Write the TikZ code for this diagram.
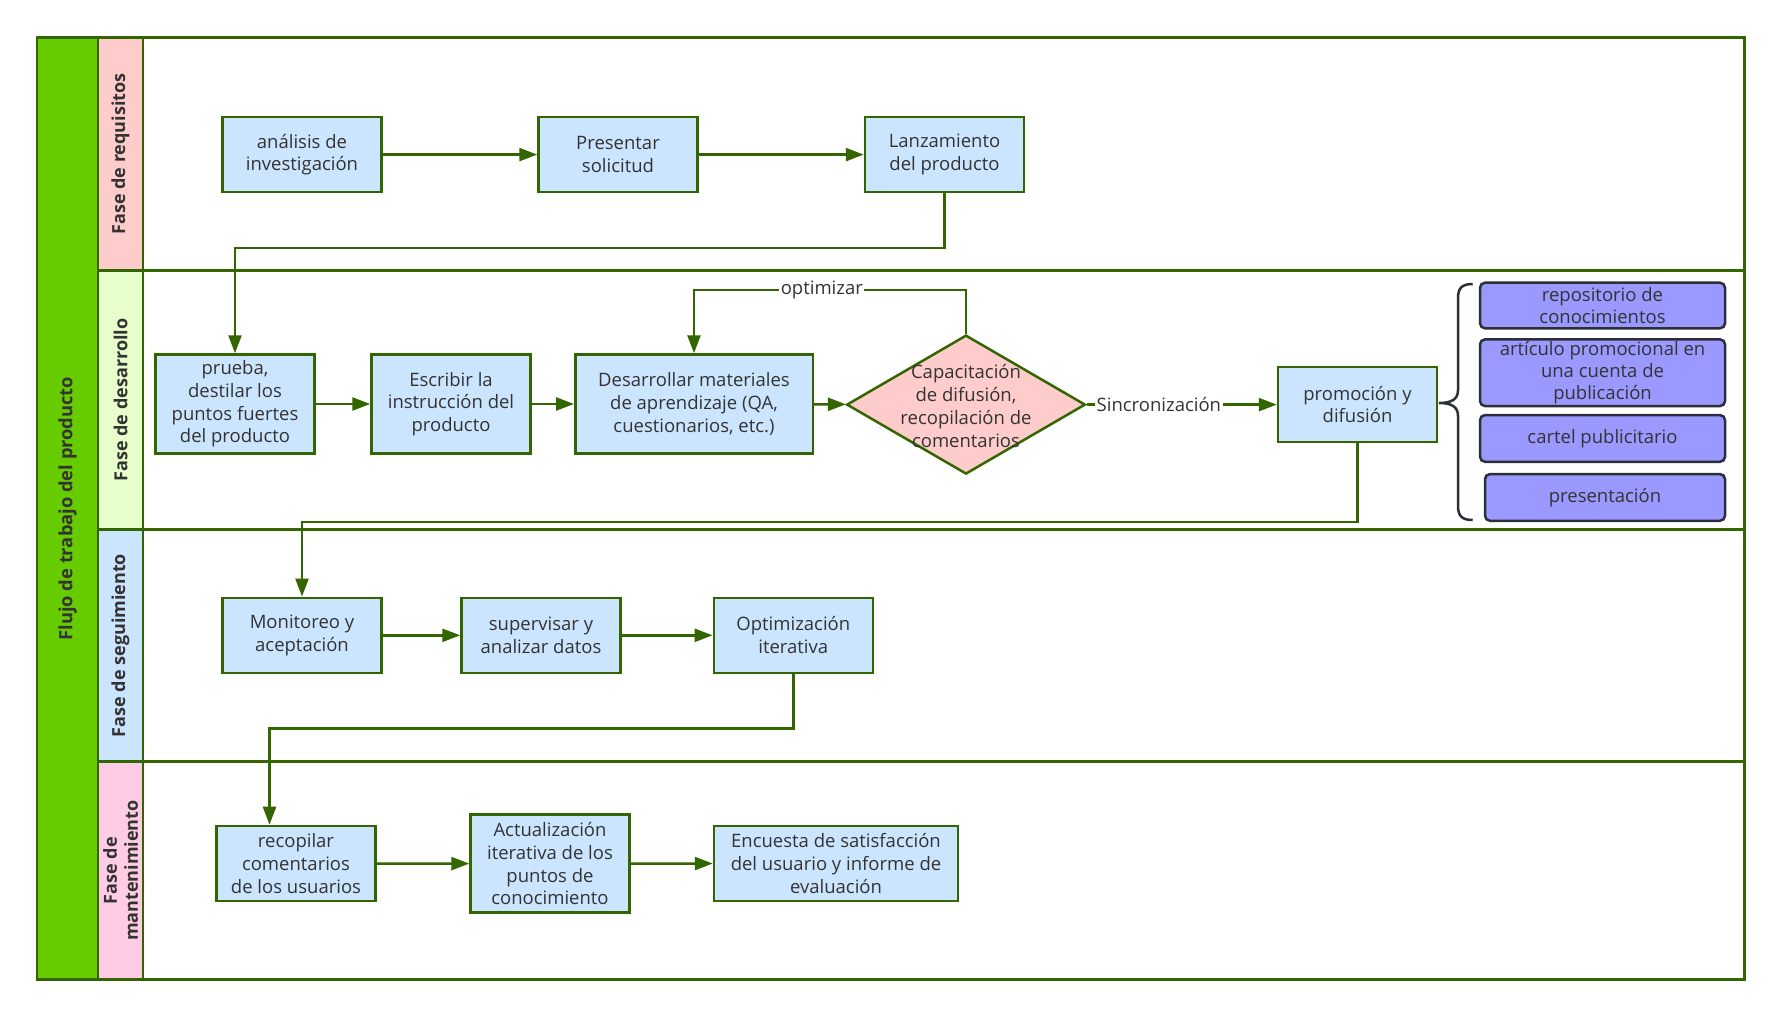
\documentclass[tikz,border=0pt]{standalone}
\usepackage{fontspec}
\setmainfont{Open Sans}
\usetikzlibrary{shapes.geometric,arrows.meta}
\definecolor{lg}{HTML}{336600}
\definecolor{grcol}{HTML}{66CC00}
\definecolor{boxfill}{HTML}{CCE5FF}
\definecolor{reqfill}{HTML}{FFCCCC}
\definecolor{desfill}{HTML}{E6FFCC}
\definecolor{segfill}{HTML}{CCE5FF}
\definecolor{manfill}{HTML}{FFCCE6}
\definecolor{purp}{HTML}{9999FF}
\definecolor{dk}{HTML}{2B2F38}
\definecolor{txt}{HTML}{333333}
\tikzset{
  box/.style={draw=lg, fill=boxfill, line width=2.5pt, text=txt, inner sep=0pt, align=center,
    font=\fontsize{18.5}{22.7}\selectfont, minimum width=159pt, minimum height=75pt},
  pbox/.style={draw=dk, fill=purp, line width=2.5pt, rounded corners=5pt, text=txt, inner sep=0pt,
    align=center, font=\fontsize{18.5}{21.7}\selectfont, minimum width=245pt},
  lanelbl/.style={draw=lg, line width=2.5pt, rotate=90, text=txt, inner sep=0pt, align=center,
    font=\bfseries\fontsize{18}{21}\selectfont, minimum height=45pt},
  lanebox/.style={draw=lg, line width=2.5pt},
  arr/.style={draw=lg, line width=2.5pt, -{Triangle[length=18pt,width=13pt]}},
  lbl/.style={fill=white, text=txt, inner sep=1.5pt, font=\fontsize{18.5}{22}\selectfont}
}
\begin{document}
\begin{tikzpicture}[x=1pt,y=-1pt]
\useasboundingbox[fill=white] (0,0) rectangle (1782,1018);
% lanes
\draw[lanebox] (143,37.5) rectangle (1744.5,270.5);
\draw[lanebox] (143,270.5) rectangle (1744.5,529.6);
\draw[lanebox] (143,529.6) rectangle (1744.5,761.5);
\draw[lanebox] (143,761.5) rectangle (1744.5,979.7);
% title column
\node[lanelbl, fill=grcol, minimum width=942.2pt, minimum height=61pt, font=\bfseries\fontsize{18.3}{21}\selectfont]
  (title) at (67.5,508.6) {Flujo de trabajo del producto};
\node[lanelbl, fill=reqfill, minimum width=233pt] (l1) at (120.5,154) {Fase de requisitos};
\node[lanelbl, fill=desfill, minimum width=259.1pt] (l2) at (120.5,400.05) {Fase de desarrollo};
\node[lanelbl, fill=segfill, minimum width=231.9pt] (l3) at (120.5,645.55) {Fase de seguimiento};
\node[lanelbl, fill=manfill, minimum width=218.2pt] (l4) at (120.5,870.6) {Fase de\\mantenimiento};
% lane 1
\node[box] (ana) at (302,154.6) {análisis de\\investigación};
\node[box] (pre) at (618,154.6) {Presentar\\solicitud};
\node[box] (lan) at (944.5,154.6) {Lanzamiento\\del producto};
% lane 2
\node[box, minimum height=99pt] (pru) at (235,404) {prueba,\\destilar los\\puntos fuertes\\del producto};
\node[box, minimum height=99pt] (esc) at (451,404) {Escribir la\\instrucción del\\producto};
\node[box, minimum height=99pt, minimum width=237.5pt] (des) at (694,404) {Desarrollar materiales\\de aprendizaje (QA,\\cuestionarios, etc.)};
\node[diamond, draw=lg, fill=reqfill, line width=2.5pt, inner sep=0pt, minimum width=238.7pt, minimum height=139pt] (dia) at (966,404.6) {};
\node[text=txt, align=center, inner sep=0pt, font=\fontsize{18.5}{22.7}\selectfont] (diatxt) at (966,406) {Capacitación\\de difusión,\\recopilación de\\comentarios};
\node[box] (pro) at (1357.5,404.6) {promoción y\\difusión};
\node[pbox, minimum height=45.6pt] (p1) at (1602.5,305.5) {repositorio de\\conocimientos};
\node[pbox, minimum height=66.7pt] (p2) at (1602.5,372.7) {artículo promocional en\\una cuenta de\\publicación};
\node[pbox, minimum height=46.7pt] (p3) at (1602.5,438.4) {cartel publicitario};
\node[pbox, minimum height=46.7pt, minimum width=240pt] (p4) at (1605,497.4) {presentación};
\draw[dk, line width=2.5pt] (1472.7,284) .. controls (1462,284) and (1458,288) .. (1458,298) -- (1458,390)
  .. controls (1458,399) and (1452,403) .. (1439,403) .. controls (1452,403) and (1458,407) .. (1458,416)
  -- (1458,506) .. controls (1458,516) and (1462,520) .. (1472.7,520);
% lane 3
\node[box] (mon) at (302,635.3) {Monitoreo y\\aceptación};
\node[box] (sup) at (541,635.3) {supervisar y\\analizar datos};
\node[box] (opt) at (793.3,635.3) {Optimización\\iterativa};
% lane 4
\node[box] (rec) at (296,863.4) {recopilar\\comentarios\\de los usuarios};
\node[box, minimum height=98pt] (act) at (550,863.7) {Actualización\\iterativa de los\\puntos de\\conocimiento};
\node[box, minimum width=244pt] (enc) at (836,863.4) {Encuesta de satisfacción\\del usuario y informe de\\evaluación};
% connectors
\draw[arr] (ana) -- (pre);
\draw[arr] (pre) -- (lan);
\draw[arr] (lan.south) -- ++(0,54.6) -| (pru.north);
\draw[arr] (pru) -- (esc);
\draw[arr] (esc) -- (des);
\draw[arr] (des) -- (dia);
\draw[arr] (dia.north) -- ++(0,-44) -| node[pos=0.265, lbl] {optimizar} (des.north);
\draw[arr] (dia) -- node[pos=0.38, lbl] {Sincronización} (pro);
\draw[arr] (pro.south) -- ++(0,78.5) -| (mon.north);
\draw[arr] (mon) -- (sup);
\draw[arr] (sup) -- (opt);
\draw[arr] (opt.south) -- ++(0,54.6) -| ([xshift=-26.5pt]rec.north);
\draw[arr] (rec) -- (act);
\draw[arr] (act) -- (enc);
\end{tikzpicture}
\end{document}
